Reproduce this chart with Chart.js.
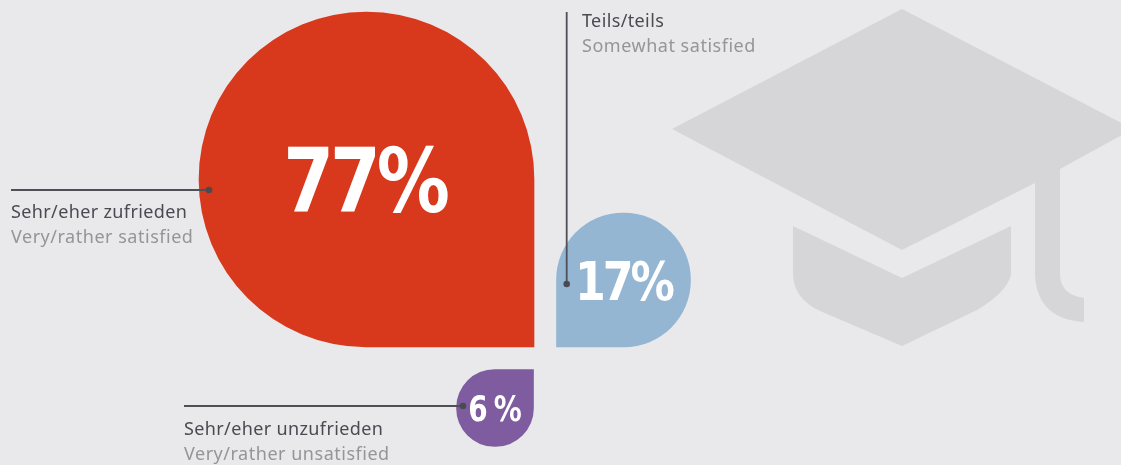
<!DOCTYPE html>
<html>
<head>
<meta charset="utf-8">
<title>Satisfaction</title>
<style>
  html, body { margin: 0; padding: 0; background: #e9e9eb; overflow: hidden; }
  canvas { display: block; }
</style>
<script src="https://cdn.jsdelivr.net/npm/chart.js@4"></script>
</head>
<body>
<canvas id="myChart" width="1121" height="465"></canvas>
<script>
// Data, left to right
const categories = ['Sehr/eher zufrieden', 'Sehr/eher unzufrieden', 'Teils/teils'];
const categoriesEn = ['Very/rather satisfied', 'Very/rather unsatisfied', 'Somewhat satisfied'];
const values = [77, 6, 17];
const valueLabels = ['77%', '6 %', '17%'];

// Look of each drop
const colors = ['#d8381c', '#7f5c9f', '#94b6d2'];
const sides = [335, 77, 134];
const baselines = [347, 369.5, 347];
const squareCorners = ['bottomRight', 'topRight', 'bottomLeft'];
const growsDown = [false, true, false];
const valueFonts = [89, 35, 54];
const valueSqueeze = [0.82, 0.8, 0.82];
const valueTracking = [-5, -2.4, -3.7];
const valueNudge = [-2, -1, 0];

const W = 1121;
const H = 465;
const barStep = 128.5;
const firstBarX = 366.5;

// every drop gets its own hidden y axis, so its side length comes from the value
function yAxisFor(i) {
  const unit = values[i] / sides[i];
  const above = baselines[i] * unit;
  const below = (H - baselines[i]) * unit;
  if (growsDown[i]) {
    return { display: false, reverse: true, min: -above, max: below };
  }
  return { display: false, min: -below, max: above };
}

function radiusFor(i) {
  const r = { topLeft: sides[i] / 2, topRight: sides[i] / 2, bottomLeft: sides[i] / 2, bottomRight: sides[i] / 2 };
  r[squareCorners[i]] = 0;
  return r;
}

const scales = {
  x: { type: 'linear', display: false, offset: false, min: -firstBarX / barStep, max: (W - firstBarX) / barStep }
};
const datasets = values.map((v, i) => {
  scales['y' + i] = yAxisFor(i);
  return {
    label: categories[i],
    data: [{ x: i, y: v }],
    yAxisID: 'y' + i,
    grouped: false,
    backgroundColor: colors[i],
    barThickness: sides[i],
    borderSkipped: false,
    borderWidth: 0,
    borderRadius: radiusFor(i)
  };
});

// Graduation cap behind everything
const capPlugin = {
  id: 'capPlugin',
  beforeDatasetsDraw: (chart) => {
    const ctx = chart.ctx;
    ctx.save();
    ctx.fillStyle = '#d6d6d8';
    ctx.beginPath();
    ctx.moveTo(902, 9);
    ctx.lineTo(1133, 129);
    ctx.lineTo(1060, 169);
    ctx.lineTo(1060, 275);
    ctx.quadraticCurveTo(1061, 295, 1084, 298);
    ctx.lineTo(1084, 322);
    ctx.quadraticCurveTo(1037, 319, 1035, 275);
    ctx.lineTo(1035, 183);
    ctx.lineTo(902, 250);
    ctx.lineTo(672, 129);
    ctx.closePath();
    ctx.fill();
    ctx.beginPath();
    ctx.moveTo(793, 226);
    ctx.lineTo(902, 278);
    ctx.lineTo(1011, 226);
    ctx.lineTo(1011, 275);
    ctx.quadraticCurveTo(1006, 293, 977, 310);
    ctx.lineTo(902, 346);
    ctx.lineTo(820, 311);
    ctx.quadraticCurveTo(794, 299, 793, 275);
    ctx.closePath();
    ctx.fill();
    ctx.restore();
  }
};

// Leader lines, labels and the numbers inside the drops
const textPlugin = {
  id: 'textPlugin',
  afterDatasetsDraw: (chart) => {
    const ctx = chart.ctx;
    ctx.save();

    const leaders = [
      [11, 190, 209, 190],
      [184, 406, 463, 406],
      [566.7, 12, 566.7, 284]
    ];
    leaders.forEach((l) => {
      ctx.strokeStyle = '#4f4f57';
      ctx.lineWidth = 1.8;
      ctx.beginPath();
      ctx.moveTo(l[0], l[1]);
      ctx.lineTo(l[2], l[3]);
      ctx.stroke();
      ctx.fillStyle = '#4a4a52';
      ctx.beginPath();
      ctx.arc(l[2], l[3], 3.3, 0, Math.PI * 2);
      ctx.fill();
    });

    const labelSpots = [[11, 218], [184, 435], [582, 27]];
    ctx.textAlign = 'left';
    ctx.textBaseline = 'alphabetic';
    ctx.font = '18px "Noto Sans"';
    labelSpots.forEach((p, i) => {
      ctx.letterSpacing = '0.37px';
      ctx.fillStyle = '#4a4a52';
      ctx.fillText(categories[i], p[0], p[1]);
      ctx.letterSpacing = '0.52px';
      ctx.fillStyle = '#94949b';
      ctx.fillText(categoriesEn[i], p[0], p[1] + 25);
    });

    // numbers follow the bars
    ctx.fillStyle = '#ffffff';
    ctx.textAlign = 'center';
    chart.data.datasets.forEach((ds, i) => {
      const bar = chart.getDatasetMeta(i).data[0];
      const cy = (bar.y + bar.base) / 2;
      ctx.save();
      ctx.translate(bar.x + valueNudge[i], cy + valueFonts[i] * 0.37);
      ctx.scale(valueSqueeze[i], 1);
      ctx.letterSpacing = valueTracking[i] + 'px';
      ctx.font = 'bold ' + valueFonts[i] + 'px "DejaVu Sans"';
      ctx.fillText(valueLabels[i], 0, 0);
      ctx.restore();
    });
    ctx.restore();
  }
};

const myChart = new Chart(document.getElementById('myChart'), {
  type: 'bar',
  data: { datasets: datasets },
  options: {
    responsive: false,
    animation: false,
    layout: { padding: 0 },
    scales: scales,
    plugins: {
      legend: { display: false },
      title: { display: false },
      tooltip: { enabled: false }
    }
  },
  plugins: [capPlugin, textPlugin]
});
</script>
</body>
</html>
